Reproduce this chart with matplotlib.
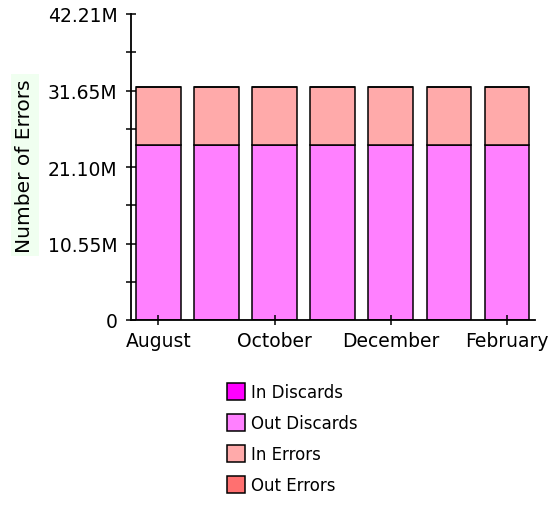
import numpy as np
import matplotlib
matplotlib.use('Agg')
import matplotlib.pyplot as plt

months = ['August', 'September', 'October', 'November', 'December', 'January', 'February']
in_discards = [0, 0, 0, 0, 0, 0, 0]
out_discards = [24.2, 24.2, 24.2, 24.2, 24.2, 24.2, 24.2]
in_errors = [8.0, 8.0, 8.0, 8.0, 8.0, 8.0, 8.0]
out_errors = [0, 0, 0, 0, 0, 0, 0]

series = [('In Discards', in_discards, '#ff00ff'),
          ('Out Discards', out_discards, '#ff80ff'),
          ('In Errors', in_errors, '#ffaaaa'),
          ('Out Errors', out_errors, '#ff7070')]

fig = plt.figure(figsize=(5.58, 5.06), dpi=100)
ax = fig.add_axes([131/558, 1-321/506, 404/558, 306/506])

x = np.arange(len(months))
bottom = np.zeros(len(months))
handles = []
for name, vals, col in series:
    vals = np.array(vals)
    b = ax.bar(x, vals, width=0.77, bottom=bottom, color=col,
               edgecolor='black', linewidth=1.1, label=name)
    handles.append(b)
    bottom += vals

ax.set_xlim(-0.47, 6.48)
ax.set_ylim(0, 42.21)
ax.set_yticks([0, 10.55, 21.10, 31.65, 42.21])
ax.set_yticklabels(['0', '10.55M', '21.10M', '31.65M', '42.21M'], fontsize=13.5)
ax.set_yticks([5.275, 15.825, 26.375, 36.935], minor=True)
ax.set_xticks(x[::2])
ax.set_xticklabels(months[::2], fontsize=13.5)
ax.tick_params(axis='y', which='both', direction='inout', length=7.2, width=1.1, pad=6)
ax.tick_params(axis='x', direction='inout', length=6.5, width=1.1, pad=5)

for s in ['top', 'right']:
    ax.spines[s].set_visible(False)
for s in ['left', 'bottom']:
    ax.spines[s].set_linewidth(1.3)

fig.text(25/558, 1-166/506, 'Number of Errors', rotation=90, fontsize=14.5,
         ha='center', va='center',
         bbox=dict(facecolor='#f0fff0', edgecolor='none', pad=3))

fig.legend(handles=handles, loc='upper left', bbox_to_anchor=(227/558, 1-384/506),
           frameon=False, fontsize=12, handlelength=1.08, handleheight=1.15,
           labelspacing=0.78, handletextpad=0.36, borderpad=0, borderaxespad=0)

fig.savefig('out.png', dpi=100)
